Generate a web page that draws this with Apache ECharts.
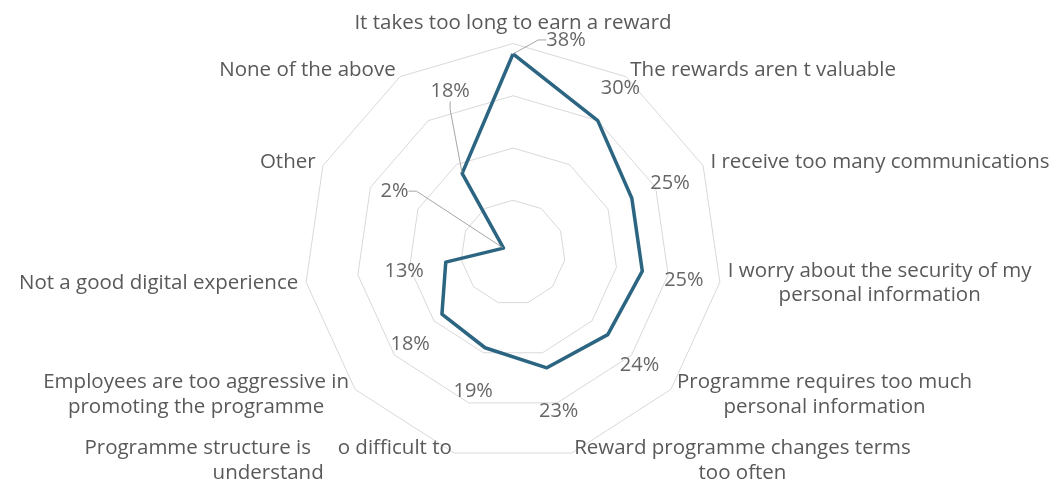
<!DOCTYPE html>
<html><head><meta charset="utf-8">
<script src="https://cdn.jsdelivr.net/npm/echarts@6/dist/echarts.min.js"></script>
<style>html,body{margin:0;padding:0;background:#fff}#c{width:1054px;height:485px}</style>
</head><body><div id="c"></div>
<script>
// ---- data ----
const categories = [
  'It takes too long to earn a reward',
  'The rewards aren t valuable',
  'I receive too many communications',
  'I worry about the security of my\npersonal information',
  'Programme requires too much\npersonal information',
  'Reward programme changes terms\ntoo often',
  'Programme structure is     o difficult to\nunderstand',
  'Employees are too aggressive in\npromoting the programme',
  'Not a good digital experience',
  'Other',
  'None of the above'
];
const values = [38, 30, 25, 25, 24, 23, 19, 18, 13, 2, 18];
const axisMax = 40;
const ringCount = 4;

// ---- layout / style ----
const FONT = '"Open Sans", Lato, sans-serif';
const center = [513, 252.5];
const radius = 209;
const lineColor = '#2c6581';
const n = categories.length;

// radar lays indicators counter-clockwise: keep first, reverse the rest for clockwise order
const order = [0].concat(Array.from({length: n - 1}, (_, k) => n - 1 - k));
const indicators = order.map(i => ({name: categories[i], min: 0, max: axisMax}));
const radarValues = order.map(i => values[i]);

// value label placement: pushed outward along the spoke, three callouts moved by hand with leader lines
const labelDist = 42;
const labelDy = 3;
const calloutOffsets = {0: [53, -14], 9: [-109, -57], 10: [-12, -82]};
function labelShift(i) {
  if (calloutOffsets[i]) return calloutOffsets[i];
  const a = i * 2 * Math.PI / n;
  return [labelDist * Math.sin(a), -labelDist * Math.cos(a) + labelDy];
}
const labelData = values.map((v, i) => {
  const item = {value: [v, i]};
  if (calloutOffsets[i]) item.labelLine = {show: true};
  return item;
});

const chart = echarts.init(document.getElementById('c'), null, {renderer: 'canvas'});
chart.setOption({
  animation: false,
  backgroundColor: '#fff',
  textStyle: {fontFamily: FONT},
  radar: {
    center: center,
    radius: radius,
    startAngle: 90,
    splitNumber: ringCount,
    shape: 'polygon',
    indicator: indicators,
    nameGap: 8,
    axisName: {
      color: '#595959',
      fontSize: 20.5,
      fontFamily: FONT,
      formatter: name => name.split('\n').map(s => '{c|' + s + '}').join('\n'),
      rich: {c: {align: 'center', color: '#595959', fontSize: 20.5, fontFamily: FONT, lineHeight: 24.5}}
    },
    axisLine: {show: false},
    axisTick: {show: false},
    axisLabel: {show: false},
    splitArea: {show: false},
    splitLine: {lineStyle: {color: '#d9d9d9', width: 1}}
  },
  polar: {center: center, radius: radius},
  angleAxis: {type: 'category', data: categories, startAngle: 90, clockwise: true, boundaryGap: false, show: false},
  radiusAxis: {type: 'value', min: 0, max: axisMax, show: false},
  series: [
    {
      type: 'radar',
      symbol: 'none',
      lineStyle: {color: lineColor, width: 3.5},
      data: [{value: radarValues}],
      z: 3
    },
    {
      type: 'scatter',
      coordinateSystem: 'polar',
      symbolSize: 2,
      itemStyle: {color: 'rgba(0,0,0,0)'},
      label: {
        show: true,
        position: 'inside',
        formatter: p => p.value[0] + '%',
        color: '#404040',
        fontSize: 20,
        fontFamily: FONT
      },
      labelLayout: p => {
        const s = labelShift(p.dataIndex);
        return {dx: s[0], dy: s[1]};
      },
      labelLine: {show: false, length2: 8, lineStyle: {color: '#a6a6a6', width: 1}},
      data: labelData,
      z: 4
    }
  ]
});
</script></body></html>
